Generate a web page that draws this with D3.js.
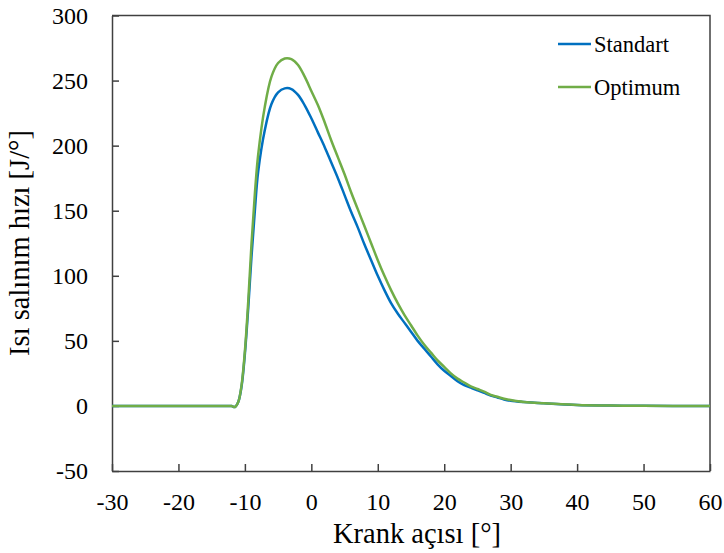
<!DOCTYPE html>
<html>
<head>
<meta charset="utf-8">
<script src="https://cdn.jsdelivr.net/npm/d3@7"></script>
<style>
  body { margin: 0; background: #fff; }
  svg text { font-family: "Liberation Serif", "DejaVu Serif", "Times New Roman", Times, serif; fill: #000; }
</style>
</head>
<body>
<script>
// crank angle [deg]
var angles = [-30, -20, -14, -12.5, -12, -11.5, -11, -10.5, -10, -9.5, -9, -8.5, -8, -7, -6, -5, -4, -3, -2, -1,
  0, 1, 2, 3, 4, 5, 6, 7, 8, 9, 10, 11, 12, 13, 14, 15, 16, 17, 18, 19, 20,
  21, 22, 23, 24, 25, 26, 27, 28, 29, 30, 32, 35, 40, 45, 50, 55, 60];

// heat release rate [J/deg]
var standart = [0, 0, 0, 0, -0.1, -0.8, 3, 15, 40, 75, 115, 150, 180, 212, 232, 241, 244, 243.5, 239, 231,
  221, 210, 199, 187, 175, 162, 149, 137, 124, 112, 100, 89, 79, 71, 64, 57, 50, 44, 38, 32, 27,
  23, 19, 16, 14, 12, 10, 8, 6.5, 5, 4, 3, 2, 0.7, 0.3, 0.1, 0, 0];

var optimum = [0, 0, 0, 0, -0.1, -0.8, 3, 16, 42, 80, 125, 163, 193, 230, 253, 263.5, 267, 266.5, 262, 253,
  242, 231, 218, 204, 191, 178, 164, 151, 138, 125, 112, 100, 89, 79, 70, 62, 54, 47, 41, 35, 30,
  25, 21, 18, 15, 13, 11, 8.5, 7, 5.5, 4.5, 3, 2, 0.8, 0.3, 0.1, 0, 0];

var seriesNames = ["Standart", "Optimum"];
var seriesColors = ["#0070C0", "#70AD47"];
var xTicks = [-30, -20, -10, 0, 10, 20, 30, 40, 50, 60];
var yTicks = [-50, 0, 50, 100, 150, 200, 250, 300];

var width = 724, height = 553;
var margin = {left: 112, right: 14, top: 15.5, bottom: 82};
var serif = "'Liberation Serif', 'DejaVu Serif', 'Times New Roman', Times, serif";

var svg = d3.select("body").append("svg")
    .attr("width", width)
    .attr("height", height);

var x = d3.scaleLinear().domain([-30, 60]).range([margin.left, width - margin.right]);
var y = d3.scaleLinear().domain([-50, 300]).range([height - margin.bottom, margin.top]);

var plain = function(d) { return String(d); };  // hyphen minus like the original

// x axis (ticks point inward)
var xAxis = svg.append("g")
    .attr("transform", "translate(0," + y(-50) + ")")
    .call(d3.axisBottom(x).tickValues(xTicks).tickFormat(plain)
      .tickSizeInner(-7).tickSizeOuter(0).tickPadding(22));

var yAxis = svg.append("g")
    .attr("transform", "translate(" + x(-30) + ",0)")
    .call(d3.axisLeft(y).tickValues(yTicks).tickFormat(plain)
      .tickSizeInner(-7).tickSizeOuter(0).tickPadding(24));

[xAxis, yAxis].forEach(function(a) {
  a.attr("font-family", null).attr("font-size", null);
  a.select(".domain").attr("stroke", "#404040").attr("stroke-width", 1.5);
  a.selectAll(".tick line").attr("stroke", "#404040").attr("stroke-width", 1.5);
  a.selectAll(".tick text").style("font-size", "24px")
    .style("font-family", serif).attr("fill", "#000");
});
yAxis.selectAll(".tick text").attr("dy", "0.33em");

// top and right border of plot area
svg.append("path")
    .attr("d", "M" + x(-30) + "," + y(300) + "H" + x(60) + "V" + y(-50))
    .attr("fill", "none")
    .attr("stroke", "#404040")
    .attr("stroke-width", 1.5);

var line = d3.line()
    .x(function(d) { return x(d[0]); })
    .y(function(d) { return y(d[1]); })
    .curve(d3.curveCatmullRom.alpha(0.5));

[standart, optimum].forEach(function(vals, i) {
  svg.append("path")
      .datum(angles.map(function(a, j) { return [a, vals[j]]; }))
      .attr("fill", "none")
      .attr("stroke", seriesColors[i])
      .attr("stroke-width", 2.5)
      .attr("d", line);
});

// legend
var legend = svg.append("g");
seriesNames.forEach(function(name, i) {
  var ly = 44 + i * 43;
  legend.append("line")
      .attr("x1", 558).attr("x2", 591)
      .attr("y1", ly).attr("y2", ly)
      .attr("stroke", seriesColors[i])
      .attr("stroke-width", 2.5);
  legend.append("text")
      .attr("x", 594).attr("y", ly + 8)
      .style("font-family", serif)
      .style("font-size", "22.5px")
      .text(name);
});

// axis titles
svg.append("text")
    .attr("x", 417).attr("y", 543)
    .attr("text-anchor", "middle")
    .style("font-family", serif)
    .style("font-size", "28.5px")
    .text("Krank açısı [°]");

svg.append("text")
    .attr("transform", "translate(28.5,243) rotate(-90)")
    .attr("text-anchor", "middle")
    .style("font-family", serif)
    .style("font-size", "28.5px")
    .text("Isı salınım hızı [J/°]");
</script>
</body>
</html>
